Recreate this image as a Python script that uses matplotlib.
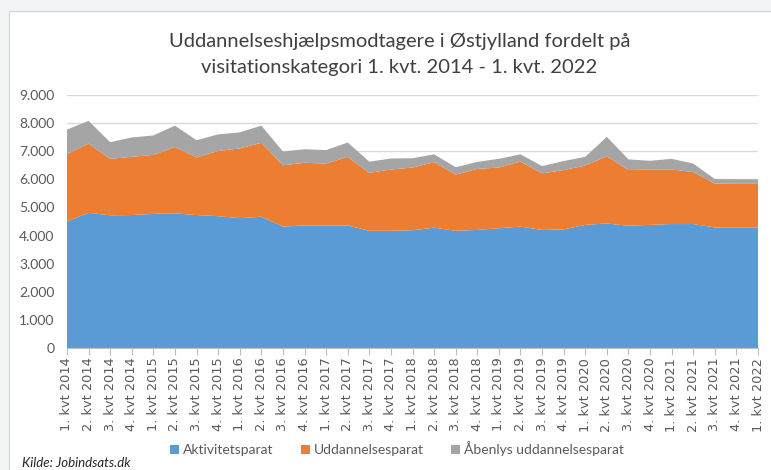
import matplotlib
matplotlib.use('Agg')
import matplotlib.pyplot as plt
from matplotlib.patches import Rectangle
from matplotlib.ticker import FuncFormatter
import numpy as np

plt.rcParams['font.family'] = ['Lato', 'DejaVu Sans']

# quarters 1. kvt 2014 - 1. kvt 2022
quarters = []
for year in range(2014, 2023):
    for q in range(1, 5):
        quarters.append('%d. kvt %d' % (q, year))
quarters = quarters[:33]

# values (persons)
aktivitetsparat = [4500, 4810, 4720, 4730, 4770, 4790, 4730, 4690, 4620, 4670,
                   4320, 4360, 4350, 4360, 4170, 4170, 4190, 4280, 4170, 4200,
                   4260, 4320, 4200, 4220, 4380, 4430, 4350, 4380, 4410, 4410,
                   4290, 4290, 4290]
uddannelsesparat = [2400, 2460, 2010, 2070, 2100, 2360, 2050, 2320, 2480, 2630,
                    2180, 2230, 2210, 2440, 2060, 2180, 2230, 2330, 2000, 2170,
                    2160, 2310, 2010, 2110, 2110, 2390, 1980, 1970, 1940, 1850,
                    1560, 1550, 1550]
aabenlys = [870, 810, 590, 690, 690, 760, 610, 590, 570, 610,
            490, 480, 480, 510, 400, 390, 330, 280, 260, 250,
            310, 260, 260, 320, 310, 690, 380, 310, 380, 300,
            160, 160, 160]

series_names = ['Aktivitetsparat', 'Uddannelsesparat', 'Åbenlys uddannelsesparat']
colors = ['#5b9bd5', '#ed7d31', '#a5a5a5']

fig = plt.figure(figsize=(7.71, 4.70), dpi=100)
fig.patch.set_facecolor('#f1f5f6')
fig.patches.append(Rectangle((9 / 771, -0.01), 1.0, 1 - 11 / 470 + 0.01,
                             transform=fig.transFigure, facecolor='white',
                             edgecolor='#d5d8da', linewidth=1.0, zorder=-5))

ax = fig.add_axes([67 / 771, 1 - 348 / 470, (758 - 67) / 771, (348 - 95) / 470])
ax.set_facecolor('none')
x = np.arange(len(quarters))
ax.stackplot(x, aktivitetsparat, uddannelsesparat, aabenlys,
             colors=colors, labels=series_names, edgecolor='none', zorder=2)

ax.set_xlim(0, len(quarters) - 1)
ax.set_ylim(0, 9000)
ax.set_yticks(np.arange(0, 9001, 1000))
ax.yaxis.set_major_formatter(FuncFormatter(lambda v, p: '{:,.0f}'.format(v).replace(',', '.')))
ax.grid(axis='y', color='#d9d9d9', linewidth=1.0, zorder=1)
ax.set_axisbelow(True)
for s in ['top', 'right', 'left']:
    ax.spines[s].set_visible(False)
ax.spines['bottom'].set_color('#bfbfbf')
ax.spines['bottom'].set_zorder(3)
ax.tick_params(axis='y', length=0, labelsize=10, labelcolor='#595959', pad=9)
ax.tick_params(axis='x', length=5, color='#bfbfbf', labelcolor='#595959', pad=2)
ax.set_xticks(x)
ax.set_xticklabels(quarters, rotation=90, family='DejaVu Sans', fontsize=9.3)

fig.text(0.518, 1 - 42 / 470, 'Uddannelseshjælpsmodtagere i Østjylland fordelt på',
         ha='center', va='center', fontsize=14.5, color='#404040')
fig.text(0.518, 1 - 68 / 470, 'visitationskategori 1. kvt. 2014 - 1. kvt. 2022',
         ha='center', va='center', fontsize=14.5, color='#404040')

handles, labels = ax.get_legend_handles_labels()
fig.legend(handles, labels, loc='center', bbox_to_anchor=(0.515, 1 - 449 / 470),
           ncol=3, frameon=False, fontsize=10, handlelength=0.65, handleheight=0.65,
           handletextpad=0.25, columnspacing=2.0, labelcolor='#595959')

fig.text(22 / 771, 1 - 463 / 470, 'Kilde: Jobindsats.dk', ha='left', va='center',
         fontsize=9.5, style='italic', color='#262626')

fig.savefig('out.png', dpi=100, facecolor=fig.get_facecolor())
